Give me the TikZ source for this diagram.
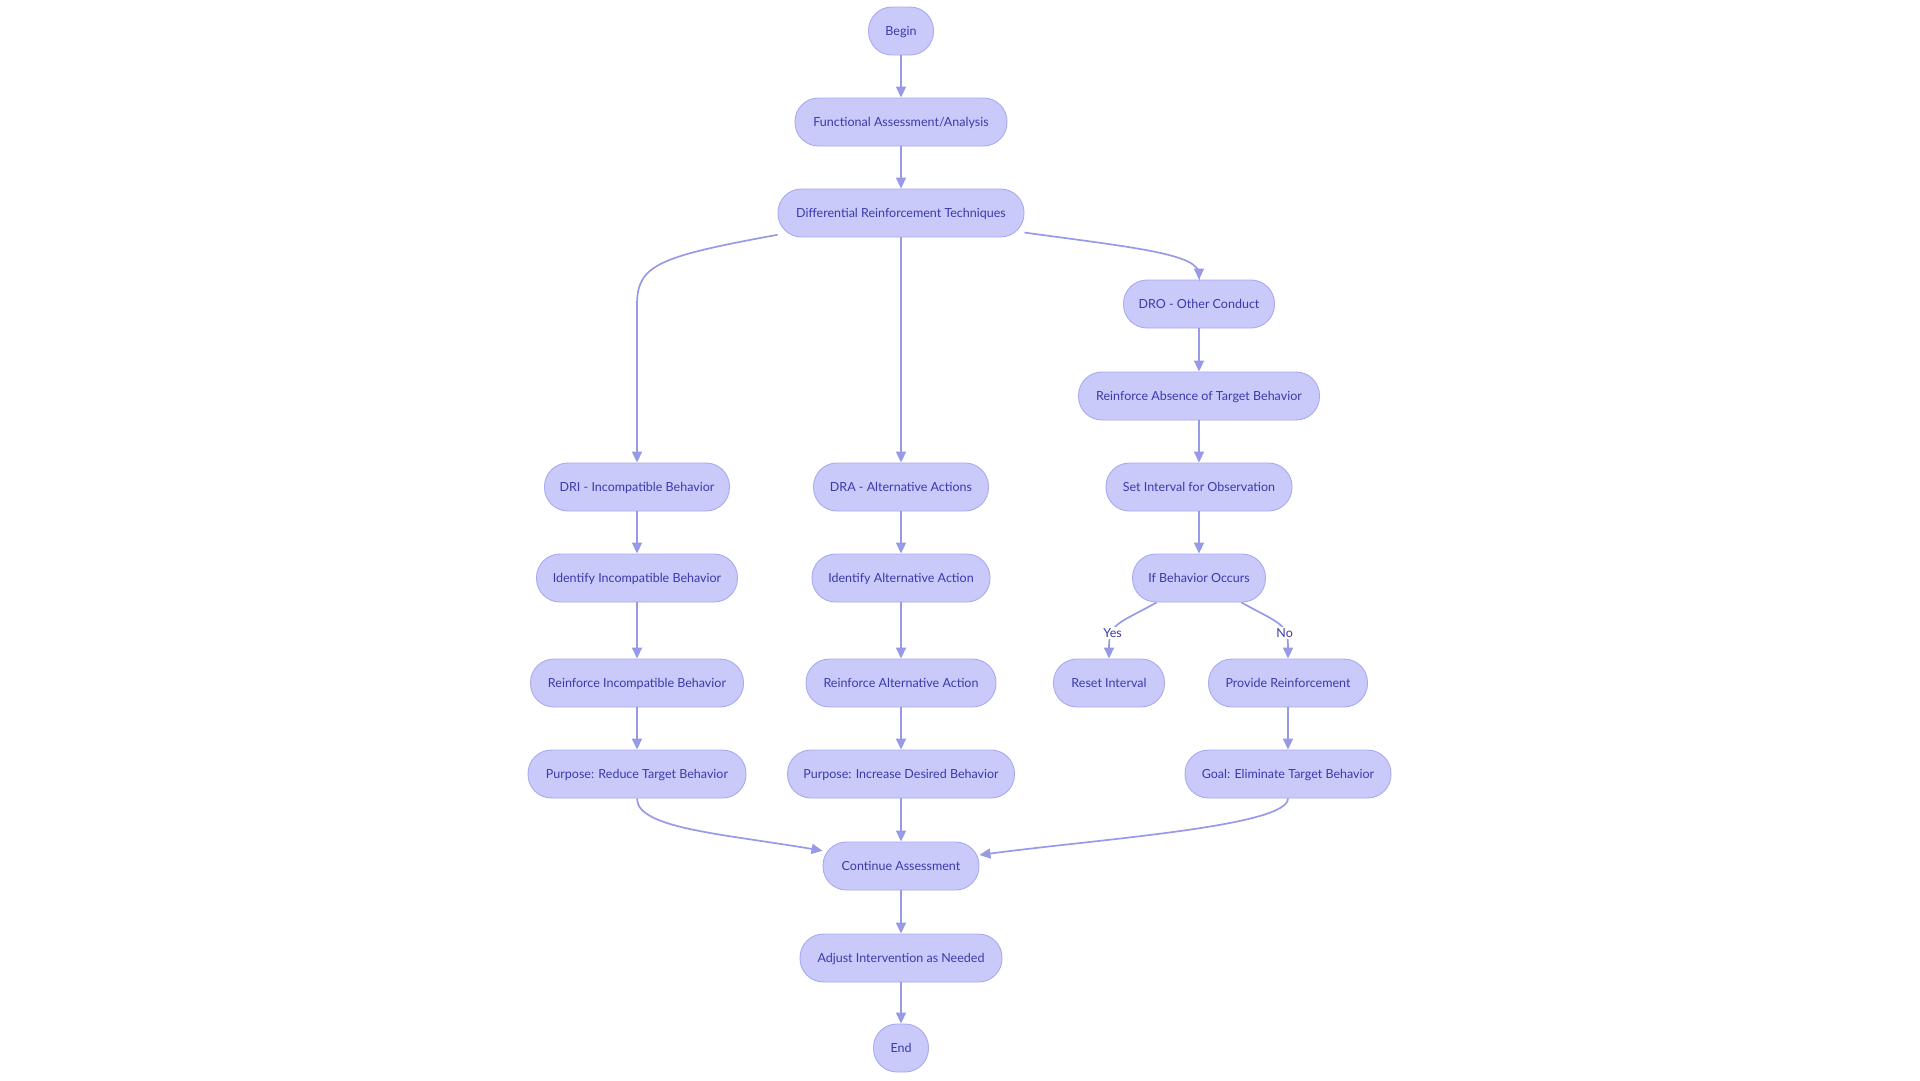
\documentclass[tikz,border=0pt]{standalone}
\usepackage{fontspec}
\setmainfont{Lato}
\usetikzlibrary{arrows.meta}
\definecolor{nodefill}{RGB}{201,202,250}
\definecolor{nodeline}{RGB}{168,170,240}
\definecolor{edgecol}{RGB}{152,154,232}
\definecolor{txtcol}{RGB}{58,58,172}
\tikzset{
  box/.style={draw=nodeline, fill=nodefill, line width=0.9pt, rounded corners=23.5pt,
    minimum height=48pt, inner sep=0pt, text=txtcol, font=\fontsize{12.5pt}{14pt}\selectfont,
    text height=10.5pt, text depth=2pt},
  edge/.style={draw=edgecol, line width=1.7pt, -{Triangle[length=11pt,width=10pt]}},
  lbl/.style={fill=white, text=txtcol, inner sep=1pt, font=\fontsize{12.5pt}{14pt}\selectfont}
}
\begin{document}
\begin{tikzpicture}[x=1pt,y=-1pt]
\useasboundingbox (0,0) rectangle (1920,1080);
\fill[white] (0,0) rectangle (1920,1080);
% nodes
\node[box, minimum width=65pt] (begin) at (901,31) {Begin};
\node[box, minimum width=212pt] (func) at (901,122) {Functional Assessment/Analysis};
\node[box, minimum width=246pt] (diff) at (901,213) {Differential Reinforcement Techniques};
\node[box, minimum width=151pt] (dro) at (1199,304) {DRO - Other Conduct};
\node[box, minimum width=241pt] (rabs) at (1199,396) {Reinforce Absence of Target Behavior};
\node[box, minimum width=186pt] (seti) at (1199,487) {Set Interval for Observation};
\node[box, minimum width=133pt] (ifb) at (1199,578) {If Behavior Occurs};
\node[box, minimum width=111pt] (reset) at (1109,683) {Reset Interval};
\node[box, minimum width=159pt] (prov) at (1288,683) {Provide Reinforcement};
\node[box, minimum width=206pt] (goal) at (1288,774) {Goal: Eliminate Target Behavior};
\node[box, minimum width=185pt] (dri) at (637,487) {DRI - Incompatible Behavior};
\node[box, minimum width=201pt] (idinc) at (637,578) {Identify Incompatible Behavior};
\node[box, minimum width=213pt] (rinc) at (637,683) {Reinforce Incompatible Behavior};
\node[box, minimum width=218pt] (red) at (637,774) {Purpose: Reduce Target Behavior};
\node[box, minimum width=175pt] (dra) at (901,487) {DRA - Alternative Actions};
\node[box, minimum width=178pt] (idalt) at (901,578) {Identify Alternative Action};
\node[box, minimum width=190pt] (ralt) at (901,683) {Reinforce Alternative Action};
\node[box, minimum width=227pt] (inc) at (901,774) {Purpose: Increase Desired Behavior};
\node[box, minimum width=156pt] (cont) at (901,866) {Continue Assessment};
\node[box, minimum width=202pt] (adj) at (901,958) {Adjust Intervention as Needed};
\node[box, minimum width=55pt] (end) at (901,1048) {End};
% edges
\draw[edge] (begin) -- (func);
\draw[edge] (func) -- (diff);
\draw[edge] (diff.190) .. controls +(-120,22) and +(0,-40) .. (637,305) -- (dri.north);
\draw[edge] (diff) -- (dra);
\draw[edge] (diff.351) .. controls +(110,15) and +(0,-20) .. (1199,274) -- (dro.north);
\draw[edge] (dro) -- (rabs);
\draw[edge] (rabs) -- (seti);
\draw[edge] (seti) -- (ifb);
\draw[edge] (ifb.210) .. controls +(-40,22) and +(0,-35) .. (reset.north) node[lbl, pos=0.66] {Yes};
\draw[edge] (ifb.330) .. controls +(40,22) and +(0,-35) .. (prov.north) node[lbl, pos=0.66] {No};
\draw[edge] (prov) -- (goal);
\draw[edge] (dri) -- (idinc);
\draw[edge] (idinc) -- (rinc);
\draw[edge] (rinc) -- (red);
\draw[edge] (dra) -- (idalt);
\draw[edge] (idalt) -- (ralt);
\draw[edge] (ralt) -- (inc);
\draw[edge] (red.south) .. controls +(0,30) and +(-100,-17) .. (cont.169);
\draw[edge] (inc) -- (cont);
\draw[edge] (goal.south) .. controls +(0,28) and +(120,-16) .. (cont.8);
\draw[edge] (cont) -- (adj);
\draw[edge] (adj) -- (end);
\end{tikzpicture}
\end{document}
